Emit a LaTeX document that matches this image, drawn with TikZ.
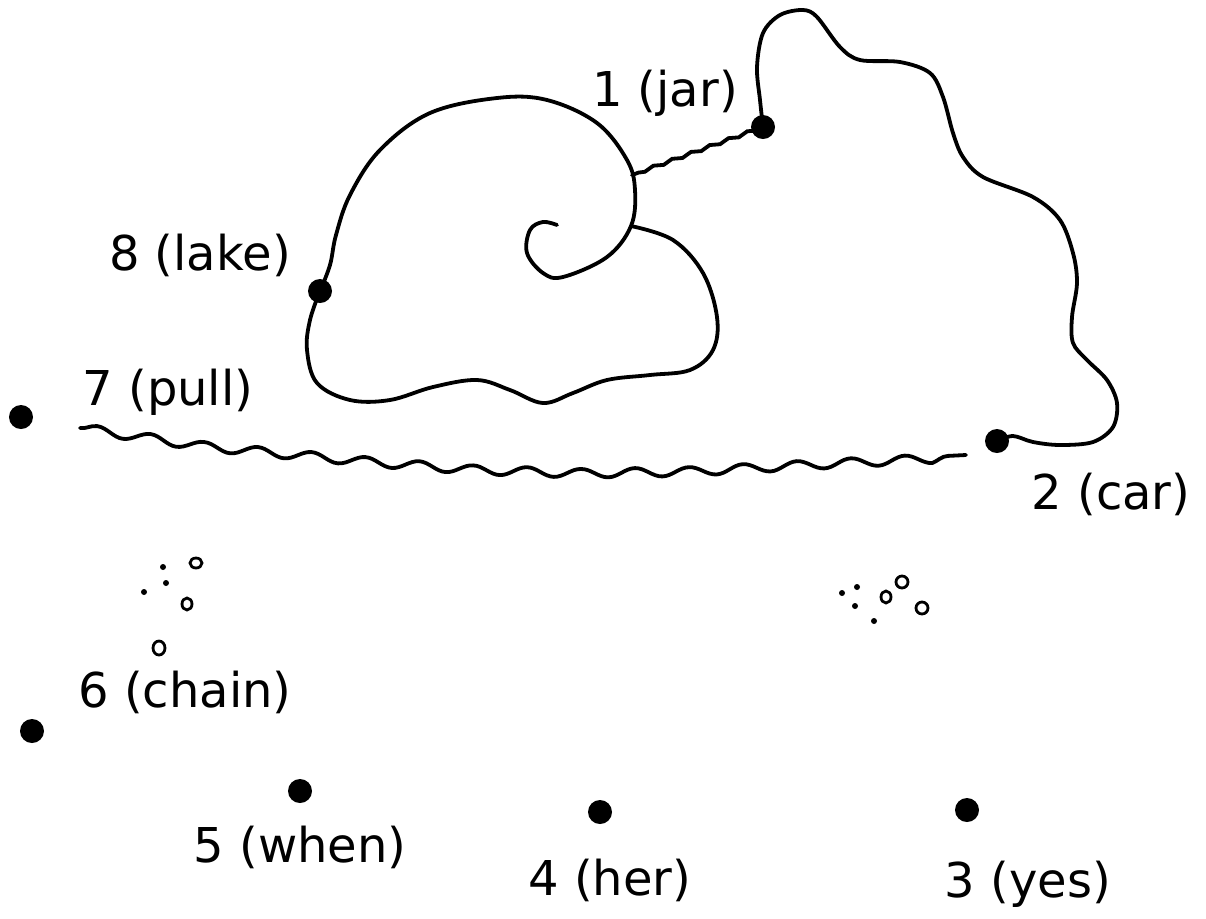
\documentclass[tikz,border=0pt]{standalone}
\usepackage{fontspec}
\setmainfont{DejaVu Sans}
\usetikzlibrary{decorations.pathmorphing}
\begin{document}
\begin{tikzpicture}[x=0.5pt,y=-0.5pt,line width=1.9pt,line cap=round,
    dot/.style={circle,fill,inner sep=0pt,minimum size=12pt},
    word/.style={font=\fontsize{24}{28}\selectfont},
    wavy/.style={decorate,decoration={snake,amplitude=#1,segment length=27pt}},
    jitter/.style={decorate,decoration={snake,amplitude=0.7pt,segment length=10pt}},
    bubble/.style={line width=1.4pt}]
\useasboundingbox (0,0) rectangle (1206,918);
% the numbered dots
\node[dot] (d1) at (763,127) {};
\node[dot] (d2) at (997,441) {};
\node[dot] (d3) at (967,810) {};
\node[dot] (d4) at (600,812) {};
\node[dot] (d5) at (300,791) {};
\node[dot] (d6) at (32,731) {};
\node[dot] (d7) at (21,417) {};
\node[dot] (d8) at (320,291) {};
\node[word] (t1) at (665,93) {1 (jar)};
\node[word] (t2) at (1111,494) {2 (car)};
\node[word] (t3) at (1028,884) {3 (yes)};
\node[word] (t4) at (610,880) {4 (her)};
\node[word] (t5) at (300,847) {5 (when)};
\node[word] (t6) at (185,692) {6 (chain)};
\node[word] (t7) at (168,392) {7 (pull)};
\node[word] (t8) at (200,255) {8 (lake)};
% the lines already drawn
\coordinate (j1) at (632,175);
\coordinate (j2) at (631,226);
\coordinate (w7) at (80,428);
\coordinate (w2) at (966,455);
\draw plot[smooth,tension=0.55] coordinates {(d1.center) (760,100) (757,67) (763,33) (780,15) (803,10) (817,17) (840,47) (860,60) (900,62) (930,73) (943,97) (953,133) (963,157) (983,177) (1033,197) (1060,220) (1073,253) (1077,283) (1072,317) (1073,343) (1087,360) (1107,380) (1117,403) (1113,427) (1093,442) (1060,445) (1033,442) (1013,436) (d2.center)};
\draw[jitter] (d1.center) -- (j1);
\draw plot[smooth,tension=0.6] coordinates {(d8.center) (330,265) (336,235) (350,195) (380,150) (430,113) (497,98) (547,100) (597,123) (627,160) (635,190) (j2) (607,257) (563,277) (543,273) (527,253) (530,230) (543,222) (557,225)};
\draw plot[smooth,tension=0.6] coordinates {(j2) (673,240) (703,273) (717,317) (713,350) (690,370) (650,375) (607,380) (573,393) (543,403) (510,390) (477,380) (433,387) (390,400) (350,400) (317,383) (307,350) (310,320) (d8.center)};
\draw[wavy=2.2pt] (w7) -- (201,446) -- (340,459) -- (470,469) -- (560,472) -- (680,470) -- (805,463) -- (w2);
% bubbles
\draw[bubble] (196,563) ellipse [x radius=6,y radius=5];
\draw[bubble] (187,604) ellipse [x radius=5,y radius=6];
\draw[bubble] (159,648) ellipse [x radius=6,y radius=7];
\draw[bubble] (886,597) ellipse [x radius=5,y radius=6];
\draw[bubble] (902,582) ellipse [x radius=6,y radius=6];
\draw[bubble] (922,608) ellipse [x radius=6,y radius=6];
\fill (163,567) circle [radius=3];
\fill (166,583) circle [radius=3];
\fill (144,592) circle [radius=3];
\fill (842,593) circle [radius=3];
\fill (857,587) circle [radius=3];
\fill (855,606) circle [radius=3];
\fill (874,621) circle [radius=3];
\end{tikzpicture}
\end{document}
